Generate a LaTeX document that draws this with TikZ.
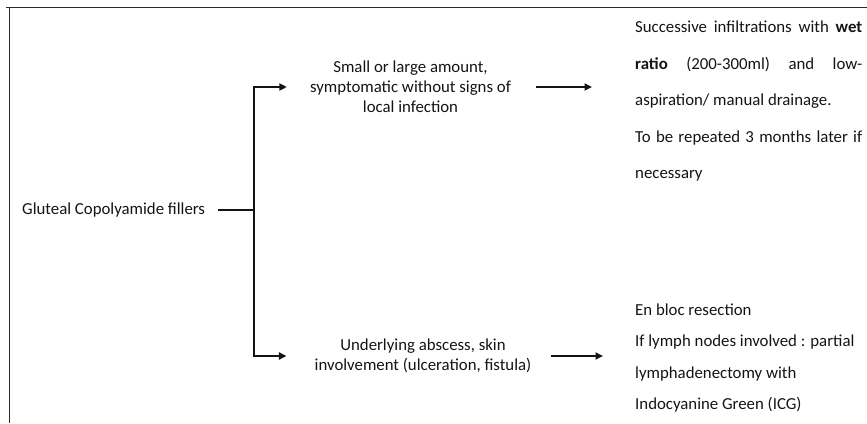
\documentclass[tikz,border=0pt]{standalone}
\usepackage{fontspec}
\setmainfont{Carlito}
\usetikzlibrary{arrows.meta}
\definecolor{ink}{HTML}{141414}
\definecolor{framec}{HTML}{2A2A2A}
\begin{document}
\begin{tikzpicture}[x=1pt,y=-1pt,
  txt/.style={inner sep=0pt, text=ink, font=\fontsize{16.8}{20}\selectfont},
  rline/.style={txt, anchor=mid west},
  conn/.style={draw=ink, line width=1.8pt, line join=miter},
  arr/.style={conn, -{Triangle[length=7.5pt,width=7pt]}},
  framel/.style={draw=framec, line width=1.8pt}]
\useasboundingbox (0,0) rectangle (867,423);
% frame
\coordinate (f0) at (6,7.5);
\coordinate (f1) at (867,7.5);
\coordinate (f2) at (9.5,7.5);
\coordinate (f3) at (9.5,423);
\draw[framel] (f0) -- (f1);
\draw[framel] (f2) -- (f3);
% left
\node[rline] (g) at (22,212) {Gluteal Copolyamide fillers};
\coordinate (jx) at (254,0);
\coordinate (jm) at (g.east -| jx);
\draw[conn, shorten <=13pt] (g.east) -- (jm);
% middle
\node[txt, align=center] (m1) at (410.5,87) {Small or large amount,\\symptomatic without signs of\\local infection};
\node[txt, align=center] (m2) at (423,356) {Underlying abscess, skin\\involvement (ulceration, fistula)};
\draw[arr, shorten >=23pt] (jm) |- (m1.west);
\draw[arr, shorten >=28pt] (jm) |- (m2.west);
% right top
\node[rline] (r1) at (635,30) {\makebox[227pt][s]{Successive infiltrations with \textbf{wet}}};
\node[rline] (r2) at (635,67) {\makebox[227pt][s]{\textbf{ratio} (200-300ml) and low-}};
\node[rline] (r3) at (635,103) {aspiration/ manual drainage.};
\node[rline] (r4) at (635,140) {\makebox[227pt][s]{To be repeated 3 months later if}};
\node[rline] (r5) at (635,176) {necessary};
% right bottom
\node[rline] (s1) at (635,313) {En bloc resection};
\node[rline] (s2) at (635,344) {If lymph nodes involved : partial};
\node[rline] (s3) at (635,376) {lymphadenectomy with};
\node[rline] (s4) at (635,407) {Indocyanine Green (ICG)};
\draw[arr, shorten <=25pt, shorten >=43pt] (m1.east) -- (m1.east -| r3.west);
\draw[arr, shorten <=19pt, shorten >=32pt] (m2.east) -- (m2.east -| s2.west);
\end{tikzpicture}
\end{document}
